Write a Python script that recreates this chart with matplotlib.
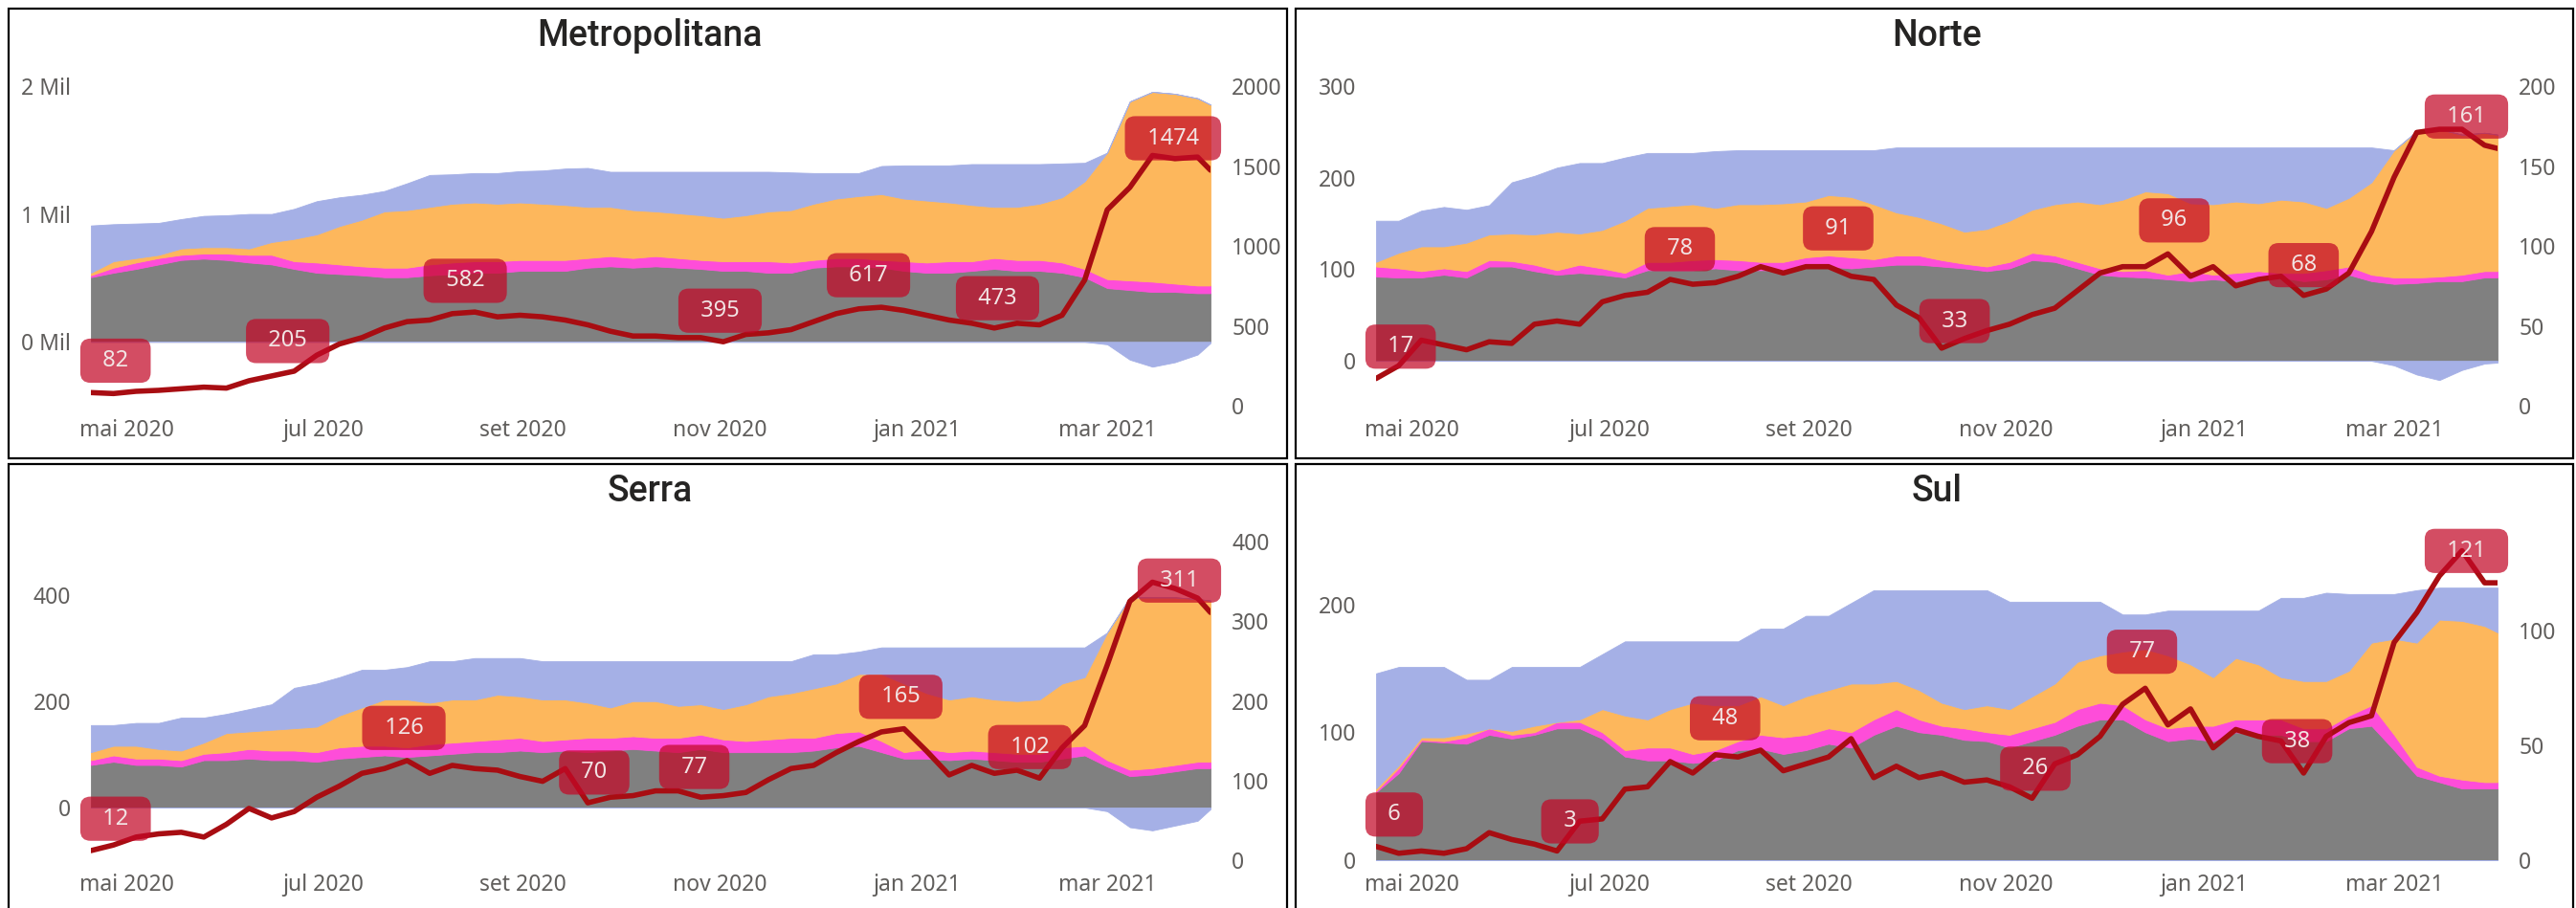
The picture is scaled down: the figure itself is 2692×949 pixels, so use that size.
import numpy as np
import pandas as pd
import matplotlib
matplotlib.use("Agg")
import matplotlib.pyplot as plt
from matplotlib.patches import Rectangle

plt.rcParams['font.family'] = ['Noto Sans', 'DejaVu Sans']

# datas (semanais) e eixo x
datas = pd.date_range('2020-04-20', periods=50, freq='7D').append(pd.DatetimeIndex(['2021-04-02']))
meses = pd.to_datetime(['2020-05-01', '2020-07-01', '2020-09-01', '2020-11-01', '2021-01-01', '2021-03-01'])
meses_txt = ['mai 2020', 'jul 2020', 'set 2020', 'nov 2020', 'jan 2021', 'mar 2021']

# ---- Metropolitana ----
metro_cinza = [505, 540, 570, 605, 640, 650, 640, 620, 605, 570, 540, 530, 520, 505, 505, 520, 530, 540, 540, 555,
               555, 555, 580, 590, 580, 590, 580, 570, 555, 555, 540, 540, 580, 590, 590, 580, 555, 540, 540, 555,
               570, 555, 555, 540, 505, 420, 405, 390, 390, 380, 380]
metro_magenta = [15, 40, 50, 50, 40, 40, 50, 60, 75, 60, 80, 75, 70, 75, 75, 85, 90, 90, 90, 85,
                 85, 85, 75, 80, 75, 80, 75, 70, 75, 75, 90, 80, 60, 65, 65, 60, 75, 80, 90, 75,
                 85, 85, 85, 80, 65, 70, 75, 80, 65, 60, 60]
metro_laranja = [20, 50, 35, 25, 50, 50, 50, 50, 100, 175, 220, 300, 365, 440, 450, 450, 460, 460, 450, 450,
                 440, 430, 400, 385, 375, 350, 350, 350, 340, 360, 390, 410, 440, 465, 485, 515, 490, 485, 460, 440,
                 400, 415, 440, 510, 685, 990, 1400, 1485, 1485, 1465, 1415]
metro_livres = [370, 290, 270, 250, 230, 245, 250, 270, 220, 235, 260, 225, 195, 160, 210, 250, 230, 230, 240, 245,
                260, 285, 305, 275, 300, 310, 325, 340, 360, 340, 310, 295, 240, 200, 180, 220, 260, 275, 290, 320,
                335, 335, 310, 265, 145, -20, -140, -195, -160, -100, -10]
metro_linha = [82, 76, 90, 96, 106, 116, 110, 156, 186, 216, 316, 386, 426, 486, 526, 536, 576, 586, 556, 566,
               556, 536, 506, 466, 436, 436, 426, 426, 400, 446, 456, 476, 526, 576, 606, 616, 596, 566, 536, 516,
               486, 516, 506, 566, 786, 1226, 1366, 1566, 1546, 1556, 1474]
metro_rot_datas = ['2020-04-20', '2020-06-20', '2020-08-14', '2020-11-01', '2020-12-17', '2021-01-26', '2021-04-02']
metro_rot_vals = [82, 205, 582, 395, 617, 473, 1474]

# ---- Norte ----
norte_cinza = [92, 91, 91, 94, 91, 103, 103, 98, 94, 96, 94, 91, 99, 99, 99, 101, 99, 99, 99, 103,
               103, 101, 103, 105, 105, 103, 101, 98, 101, 110, 108, 101, 94, 92, 91, 89, 87, 89, 87, 91,
               91, 87, 89, 94, 87, 84, 85, 87, 87, 91, 91]
norte_magenta = [11, 10, 7, 7, 7, 7, 6, 7, 5, 9, 7, 5, 9, 9, 11, 10, 11, 9, 9, 10,
                 12, 12, 8, 10, 10, 7, 5, 5, 7, 8, 7, 7, 7, 6, 8, 5, 11, 5, 9, 7,
                 5, 9, 10, 9, 7, 7, 6, 5, 7, 7, 7]
norte_laranja = [5, 17, 27, 24, 31, 28, 30, 33, 42, 34, 42, 57, 59, 61, 61, 56, 61, 63, 64, 61,
                 66, 66, 60, 47, 42, 40, 35, 41, 45, 47, 56, 66, 70, 78, 86, 89, 74, 77, 78, 74,
                 80, 78, 68, 75, 101, 139, 160, 161, 153, 151, 149]
norte_livres = [45, 35, 39, 43, 36, 32, 56, 64, 70, 77, 73, 69, 60, 58, 56, 62, 59, 59, 58, 56,
                49, 51, 59, 71, 76, 83, 92, 89, 80, 68, 62, 59, 62, 57, 48, 50, 61, 62, 59, 61,
                57, 59, 66, 55, 38, -5, -15, -21, -10, -3, -2]
norte_linha = [17, 25, 41, 38, 35, 40, 39, 51, 53, 51, 65, 69, 71, 79, 76, 77, 81, 87, 83, 87,
               87, 81, 79, 63, 55, 36, 42, 47, 51, 57, 61, 72, 83, 87, 87, 95, 81, 87, 75, 79,
               81, 69, 73, 83, 109, 143, 171, 173, 173, 163, 161]
norte_rot_datas = ['2020-04-20', '2020-07-23', '2020-09-10', '2020-10-16', '2020-12-23', '2021-02-01', '2021-04-02']
norte_rot_vals = [17, 78, 91, 33, 96, 68, 161]

# ---- Serra ----
serra_cinza = [80, 86, 80, 80, 77, 89, 89, 92, 89, 89, 86, 92, 95, 98, 95, 98, 101, 104, 104, 107,
               104, 107, 104, 107, 110, 107, 104, 110, 104, 104, 104, 104, 107, 113, 116, 104, 92, 92, 89, 92,
               89, 86, 86, 92, 98, 77, 59, 62, 68, 74, 74]
serra_magenta = [9, 12, 12, 12, 12, 12, 15, 18, 18, 18, 18, 21, 21, 18, 18, 21, 21, 21, 24, 24,
                 21, 21, 27, 24, 24, 24, 27, 27, 24, 21, 24, 27, 24, 27, 27, 21, 12, 18, 15, 15,
                 15, 15, 15, 21, 18, 12, 12, 12, 12, 12, 12]
serra_laranja = [15, 18, 24, 18, 18, 21, 36, 33, 39, 42, 48, 60, 72, 87, 90, 78, 81, 78, 84, 78,
                 78, 75, 66, 57, 66, 69, 60, 57, 57, 69, 81, 84, 93, 93, 108, 126, 129, 105, 99, 102,
                 99, 99, 102, 120, 129, 240, 324, 321, 315, 306, 303]
serra_livres = [51, 39, 43, 49, 62, 47, 36, 42, 48, 76, 81, 72, 71, 56, 61, 78, 72, 78, 69, 72,
                72, 72, 78, 87, 75, 75, 84, 81, 90, 81, 66, 60, 64, 55, 42, 50, 68, 86, 98, 92,
                98, 101, 98, 68, 56, -7, -37, -43, -34, -25, -3]
serra_linha = [12, 19, 29, 33, 35, 29, 45, 65, 53, 61, 79, 93, 109, 115, 125, 109, 119, 115, 113, 105,
               99, 115, 72, 79, 81, 87, 87, 79, 81, 85, 101, 115, 119, 135, 149, 161, 165, 137, 107, 119,
               109, 113, 103, 141, 169, 245, 325, 349, 341, 329, 311]
serra_rot_datas = ['2020-04-20', '2020-07-26', '2020-09-23', '2020-10-24', '2020-12-27', '2021-02-05', '2021-04-02']
serra_rot_vals = [12, 126, 70, 77, 165, 102, 311]

# ---- Sul ----
sul_cinza = [53, 68, 93, 92, 91, 98, 95, 98, 103, 103, 95, 81, 78, 78, 76, 78, 86, 87, 83, 86,
             91, 88, 98, 105, 100, 98, 94, 93, 88, 93, 98, 105, 110, 110, 100, 93, 95, 93, 100, 98,
             98, 93, 93, 103, 105, 86, 66, 61, 56, 56, 56]
sul_magenta = [1, 4, 1, 1, 5, 5, 3, 2, 5, 5, 5, 5, 10, 10, 7, 8, 7, 11, 13, 12,
               12, 12, 12, 13, 10, 7, 9, 7, 10, 10, 10, 13, 13, 11, 10, 10, 10, 12, 10, 12,
               12, 10, 10, 10, 16, 12, 7, 5, 7, 5, 5]
sul_laranja = [2, 2, 2, 3, 3, 0, 3, 5, 0, 2, 18, 27, 22, 30, 40, 35, 28, 30, 25, 30,
               30, 38, 28, 22, 23, 18, 15, 21, 20, 25, 30, 37, 37, 42, 55, 57, 48, 38, 48, 43,
               33, 37, 37, 35, 49, 75, 97, 122, 124, 122, 117]
sul_livres = [90, 77, 55, 55, 42, 38, 50, 46, 43, 41, 43, 58, 61, 53, 48, 50, 50, 53, 60, 63,
              58, 63, 73, 71, 78, 88, 93, 90, 84, 74, 64, 47, 42, 29, 27, 35, 42, 52, 37, 42,
              62, 65, 69, 60, 38, 35, 41, 25, 26, 30, 35]
sul_linha = [6, 3, 4, 3, 5, 12, 9, 7, 4, 17, 18, 31, 32, 43, 38, 46, 45, 48, 39, 42,
             45, 53, 36, 41, 36, 38, 34, 35, 32, 27, 42, 46, 54, 68, 75, 59, 66, 49, 57, 54,
             52, 38, 54, 60, 63, 95, 108, 124, 135, 121, 121]
sul_rot_datas = ['2020-04-20', '2020-06-19', '2020-08-06', '2020-11-10', '2020-12-13', '2021-01-30', '2021-04-02']
sul_rot_vals = [6, 3, 48, 26, 77, 38, 121]

# cores
CINZA = '#808080'
MAGENTA = '#FE4DD9'
LARANJA = '#FDB75C'
LAVANDA = '#A5B0E6'
VERMELHO = '#A80D12'
CAIXA = (195 / 255, 8 / 255, 39 / 255, 0.72)
TXT = '#605E5C'

W, H = 2692, 949
fig = plt.figure(figsize=(W / 100, H / 100), dpi=100)


def painel(pos, titulo, titulo_xy, cinza, mag, lar, livres, linha, rot_d, rot_v,
           ylim_e, ticks_e, lab_e, ylim_d, ticks_d):
    ax = fig.add_axes(pos)
    g = np.array(cinza, float)
    s2 = g + np.array(mag, float)
    s3 = s2 + np.array(lar, float)
    b = np.array(livres, float)
    kw = dict(linewidth=0.6)
    ax.fill_between(datas, 0, g, color=CINZA, **kw)
    ax.fill_between(datas, g, s2, color=MAGENTA, **kw)
    ax.fill_between(datas, s2, s3, color=LARANJA, **kw)
    ax.fill_between(datas, s3, s3 + np.clip(b, 0, None), color=LAVANDA, **kw)
    ax.fill_between(datas, 0, np.clip(b, None, 0), color=LAVANDA, **kw)
    ax.set_ylim(*ylim_e)
    ax.set_yticks(ticks_e)
    ax.set_yticklabels(lab_e)
    ax.set_xlim(datas[0], datas[-1])
    ax.set_xticks(meses)
    ax.set_xticklabels(meses_txt)

    ax2 = ax.twinx()
    ax2.plot(datas, linha, color=VERMELHO, lw=4, solid_joinstyle='round', solid_capstyle='round', zorder=3)
    ax2.set_ylim(*ylim_d)
    ax2.set_yticks(ticks_d)
    ax2.set_xlim(datas[0], datas[-1])

    for i, (d, v) in enumerate(zip(rot_d, rot_v)):
        ha = 'left' if i == 0 else ('right' if i == len(rot_d) - 1 else 'center')
        ax2.annotate(f"  {v}  ", xy=(pd.Timestamp(d), v), xytext=(0, 24), textcoords='offset points',
                     ha=ha, va='center', fontsize=17, color='#F2E4E4', zorder=5,
                     annotation_clip=False,
                     bbox=dict(boxstyle='round,pad=0.47,rounding_size=0.45', fc=CAIXA, ec='none'))

    for a in (ax, ax2):
        for s in a.spines.values():
            s.set_visible(False)
    ax.tick_params(axis='both', length=0, labelsize=16.5, labelcolor=TXT)
    ax.tick_params(axis='y', pad=15)
    ax.tick_params(axis='x', pad=10)
    ax2.tick_params(axis='y', length=0, labelsize=16.5, labelcolor=TXT, pad=16)

    fig.text(titulo_xy[0] / W, 1 - titulo_xy[1] / H, titulo, ha='center', va='center',
             fontsize=27, family='Roboto', fontweight='medium', color='#252423')


topo = (1 - 424 / H, (424 - 90) / H)
baixo = (1 - 899 / H, (899 - 566) / H)
esq = (95 / W, 1170 / W)
dir_ = (1438 / W, 1172 / W)

painel([esq[0], topo[0], esq[1], topo[1]], 'Metropolitana', (679, 37),
       metro_cinza, metro_magenta, metro_laranja, metro_livres, metro_linha,
       metro_rot_datas, metro_rot_vals,
       (-500, 2000), [0, 1000, 2000], ['0 Mil', '1 Mil', '2 Mil'],
       (0, 2000), [0, 500, 1000, 1500, 2000])
painel([dir_[0], topo[0], dir_[1], topo[1]], 'Norte', (2024, 37),
       norte_cinza, norte_magenta, norte_laranja, norte_livres, norte_linha,
       norte_rot_datas, norte_rot_vals,
       (-49, 300), [0, 100, 200, 300], ['0', '100', '200', '300'],
       (0, 200), [0, 50, 100, 150, 200])
painel([esq[0], baixo[0], esq[1], baixo[1]], 'Serra', (679, 513),
       serra_cinza, serra_magenta, serra_laranja, serra_livres, serra_linha,
       serra_rot_datas, serra_rot_vals,
       (-99, 500), [0, 200, 400], ['0', '200', '400'],
       (0, 400), [0, 100, 200, 300, 400])
painel([dir_[0], baixo[0], dir_[1], baixo[1]], 'Sul', (2024, 513),
       sul_cinza, sul_magenta, sul_laranja, sul_livres, sul_linha,
       sul_rot_datas, sul_rot_vals,
       (0, 249), [0, 100, 200], ['0', '100', '200'],
       (0, 139), [0, 50, 100])

# molduras dos painéis
for x0, y0, x1, y1 in [(9, 9, 1345, 479), (1354, 9, 2689, 479), (9, 485, 1345, 990), (1354, 485, 2689, 990)]:
    fig.add_artist(Rectangle((x0 / W, 1 - y1 / H), (x1 - x0) / W, (y1 - y0) / H,
                             transform=fig.transFigure, fill=False, ec='black', lw=1.6))

fig.savefig('out.png', dpi=100)
